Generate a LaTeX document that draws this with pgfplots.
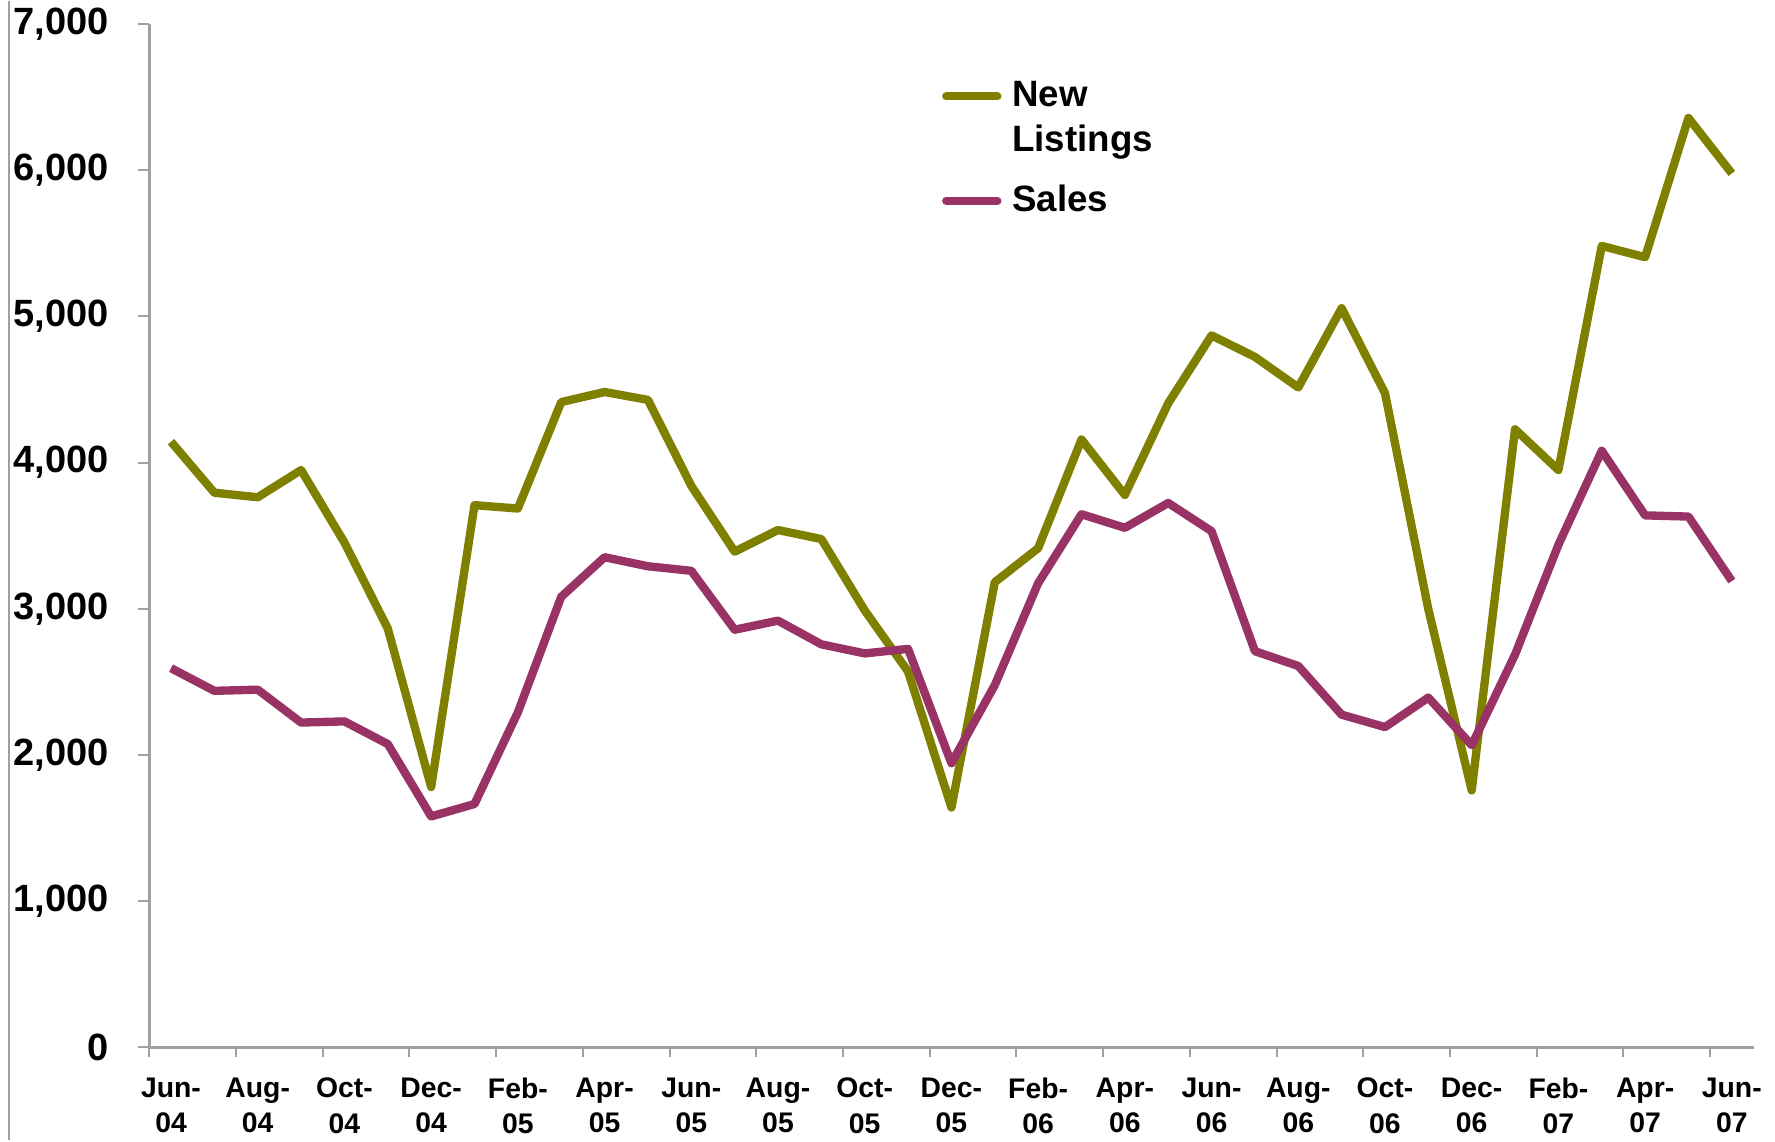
\documentclass[border=0pt]{standalone}
\usepackage{fontspec}
\setmainfont{Liberation Sans}
\usepackage{pgfplots}
\pgfplotsset{compat=1.18}
\usetikzlibrary{calc}
\definecolor{listgreen}{RGB}{128,128,0}
\definecolor{salespurple}{RGB}{153,51,102}
\definecolor{axgray}{RGB}{160,160,160}

% months Jun-04 (0) ... Jun-07 (36)
\pgfplotstableread{
i  listings sales
0  4143 2594
1  3794 2439
2  3763 2447
3  3949 2222
4  3453 2230
5  2865 2075
6  1781 1580
7  3709 1665
8  3686 2292
9  4414 3082
10 4483 3353
11 4429 3291
12 3841 3260
13 3391 2857
14 3539 2919
15 3477 2757
16 2989 2695
17 2571 2726
18 1641 1944
19 3182 2478
20 3415 3175
21 4158 3647
22 3779 3554
23 4406 3724
24 4870 3531
25 4723 2710
26 4514 2609
27 5056 2276
28 4475 2191
29 2997 2393
30 1758 2067
31 4228 2687
32 3949 3438
33 5482 4081
34 5405 3639
35 6357 3631
36 5978 3190
}\datatable

\begin{document}
\begin{tikzpicture}
\begin{axis}[
  name=ax,
  scale only axis,
  width=481.2pt, height=307pt,
  xmin=-0.5, xmax=36.5, ymin=0, ymax=7000,
  axis lines=left,
  axis line style={axgray, line width=0.8pt, -},
  tick style={axgray, line width=0.6pt},
  tick align=outside,
  xtick={0,2,...,36},
  major x tick style={draw=none},
  minor xtick={-0.5,1.5,...,35.5},
  minor tick length=3pt,
  xticklabels={Jun-\\04,Aug-\\04,Oct-\\04,Dec-\\04,Feb-\\05,Apr-\\05,Jun-\\05,Aug-\\05,Oct-\\05,Dec-\\05,Feb-\\06,Apr-\\06,Jun-\\06,Aug-\\06,Oct-\\06,Dec-\\06,Feb-\\07,Apr-\\07,Jun-\\07},
  x tick label style={font=\fontsize{8.5}{10.5}\selectfont\bfseries, align=center, yshift=-2.4pt},
  ytick={0,1000,...,7000},
  major tick length=3.3pt,
  y tick label style={font=\fontsize{11.4}{12}\selectfont\bfseries, xshift=-5.4pt},
  /pgf/number format/assume math mode=true,
  /pgf/number format/1000 sep={,},
  legend style={draw=none, fill=none, at={(0.4912,1.0)}, anchor=north west, yshift=-15pt,
    font=\fontsize{11}{13.5}\selectfont\bfseries,
    cells={anchor=west, align=left}, row sep=4.5pt, inner sep=0pt},
  /tikz/every even column/.style={column sep=2.5pt},
]
\addplot[listgreen, line width=2.5pt, line join=round,
  legend image code/.code={\draw[line width=2.4pt, line cap=round, listgreen] (1.2pt,6.75pt) -- (16.6pt,6.75pt); \path (0pt,-6.75pt) (17.8pt,0pt);}]
  table[x=i, y=listings] {\datatable};
\addlegendentry{New\\Listings}
\addplot[salespurple, line width=2.5pt, line join=round,
  legend image code/.code={\draw[line width=2.4pt, line cap=round, salespurple] (1.2pt,0pt) -- (16.6pt,0pt); \path (0pt,0pt) (17.8pt,0pt);}]
  table[x=i, y=sales] {\datatable};
\addlegendentry{Sales}
\end{axis}
\pgfresetboundingbox
\path ($(ax.south west)+(-44.8pt,-27.9pt)$) rectangle ($(ax.north east)+(6.45pt,6.8pt)$);
\draw[axgray, line width=0.8pt] ($(ax.south west)+(-42.1pt,-27.9pt)$) -- ($(ax.north west)+(-42.1pt,6.8pt)$);
\end{tikzpicture}
\end{document}
